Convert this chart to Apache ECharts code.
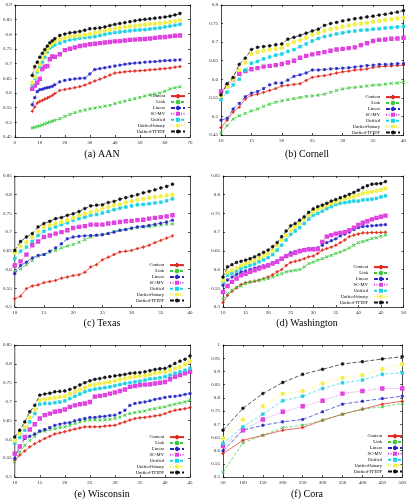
<!DOCTYPE html>
<html>
<head>
<meta charset="utf-8">
<script src="https://cdn.jsdelivr.net/npm/echarts@6/dist/echarts.min.js"></script>
<style>
html, body { margin: 0; padding: 0; background: #fff; }
#chart { width: 409px; height: 500px; }
</style>
</head>
<body>
<div id="chart"></div>
<script>
const seriesNames = ["Content", "Link", "Linear", "SC-MV", "Unified", "Unified-binary", "Unified-TFIDF"];
const captions = ["(a) AAN", "(b) Cornell", "(c) Texas", "(d) Washington", "(e) Wisconsin", "(f) Cora"];

// (a) AAN
const aanX = [7, 8, 9, 10, 11, 12, 13, 14, 15, 16, 18, 20, 22, 24, 26, 28, 30, 32, 34, 36, 38, 40, 42, 44, 46, 48, 50, 52, 54, 56, 58, 60, 62, 64, 66];
const aanY = [
  [0.538, 0.552, 0.566, 0.571, 0.575, 0.579, 0.583, 0.587, 0.592, 0.598, 0.609, 0.612, 0.615, 0.618, 0.622, 0.627, 0.634, 0.641, 0.647, 0.654, 0.661, 0.668, 0.67, 0.672, 0.674, 0.675, 0.676, 0.677, 0.679, 0.68, 0.682, 0.683, 0.685, 0.688, 0.69],
  [0.481, 0.483, 0.486, 0.488, 0.491, 0.495, 0.498, 0.501, 0.504, 0.507, 0.512, 0.52, 0.527, 0.533, 0.538, 0.542, 0.546, 0.549, 0.552, 0.555, 0.558, 0.564, 0.568, 0.572, 0.577, 0.581, 0.585, 0.59, 0.594, 0.597, 0.6, 0.606, 0.614, 0.618, 0.621],
  [0.56, 0.584, 0.605, 0.611, 0.613, 0.616, 0.618, 0.62, 0.623, 0.628, 0.638, 0.643, 0.646, 0.648, 0.65, 0.651, 0.665, 0.68, 0.683, 0.686, 0.689, 0.692, 0.695, 0.698, 0.7, 0.702, 0.703, 0.705, 0.706, 0.707, 0.709, 0.71, 0.711, 0.712, 0.713],
  [0.614, 0.625, 0.635, 0.648, 0.682, 0.69, 0.692, 0.715, 0.725, 0.723, 0.732, 0.746, 0.751, 0.755, 0.76, 0.763, 0.766, 0.768, 0.77, 0.772, 0.774, 0.776, 0.777, 0.779, 0.781, 0.782, 0.783, 0.784, 0.786, 0.788, 0.79, 0.791, 0.793, 0.795, 0.796],
  [0.628, 0.65, 0.672, 0.69, 0.705, 0.722, 0.74, 0.754, 0.759, 0.764, 0.77, 0.776, 0.781, 0.784, 0.787, 0.789, 0.79, 0.792, 0.796, 0.8, 0.803, 0.806, 0.808, 0.81, 0.812, 0.814, 0.815, 0.816, 0.818, 0.82, 0.822, 0.825, 0.828, 0.831, 0.834],
  [0.635, 0.655, 0.678, 0.697, 0.717, 0.733, 0.748, 0.761, 0.769, 0.776, 0.783, 0.788, 0.792, 0.794, 0.796, 0.798, 0.801, 0.805, 0.809, 0.813, 0.816, 0.819, 0.822, 0.825, 0.827, 0.829, 0.831, 0.833, 0.835, 0.836, 0.838, 0.84, 0.842, 0.845, 0.849],
  [0.66, 0.69, 0.705, 0.722, 0.735, 0.748, 0.76, 0.771, 0.778, 0.785, 0.796, 0.801, 0.805, 0.807, 0.81, 0.814, 0.819, 0.82, 0.822, 0.825, 0.83, 0.834, 0.837, 0.84, 0.843, 0.846, 0.849, 0.851, 0.853, 0.855, 0.857, 0.859, 0.862, 0.866, 0.871]
];

// (b) Cornell
const cornellX = [10, 11, 12, 13, 14, 15, 16, 17, 18, 19, 20, 21, 22, 23, 24, 25, 26, 27, 28, 29, 30, 31, 32, 33, 34, 35, 36, 37, 38, 39, 40];
const cornellY = [
  [0.47, 0.49, 0.512, 0.525, 0.547, 0.557, 0.56, 0.565, 0.57, 0.575, 0.582, 0.584, 0.586, 0.588, 0.597, 0.605, 0.608, 0.61, 0.613, 0.617, 0.62, 0.622, 0.625, 0.626, 0.628, 0.632, 0.634, 0.635, 0.636, 0.637, 0.638],
  [0.455, 0.475, 0.493, 0.502, 0.508, 0.515, 0.52, 0.527, 0.533, 0.538, 0.542, 0.545, 0.548, 0.551, 0.554, 0.555, 0.557, 0.56, 0.565, 0.57, 0.574, 0.577, 0.578, 0.58, 0.582, 0.584, 0.585, 0.587, 0.589, 0.59, 0.592],
  [0.49, 0.495, 0.52, 0.535, 0.553, 0.563, 0.567, 0.575, 0.585, 0.59, 0.59, 0.598, 0.608, 0.612, 0.617, 0.625, 0.625, 0.626, 0.628, 0.629, 0.63, 0.631, 0.633, 0.635, 0.637, 0.638, 0.64, 0.64, 0.641, 0.642, 0.642],
  [0.567, 0.582, 0.6, 0.615, 0.622, 0.627, 0.63, 0.634, 0.636, 0.638, 0.641, 0.645, 0.65, 0.658, 0.663, 0.667, 0.67, 0.673, 0.677, 0.68, 0.682, 0.684, 0.686, 0.692, 0.697, 0.703, 0.706, 0.707, 0.709, 0.71, 0.712],
  [0.545, 0.565, 0.585, 0.6, 0.625, 0.643, 0.648, 0.655, 0.66, 0.665, 0.668, 0.675, 0.68, 0.688, 0.695, 0.703, 0.71, 0.715, 0.718, 0.722, 0.725, 0.728, 0.73, 0.732, 0.733, 0.735, 0.736, 0.738, 0.739, 0.741, 0.742],
  [0.555, 0.58, 0.6, 0.625, 0.645, 0.668, 0.673, 0.677, 0.68, 0.682, 0.685, 0.693, 0.7, 0.705, 0.712, 0.72, 0.725, 0.73, 0.735, 0.738, 0.742, 0.745, 0.748, 0.75, 0.752, 0.755, 0.757, 0.76, 0.762, 0.764, 0.766],
  [0.558, 0.588, 0.605, 0.64, 0.657, 0.68, 0.686, 0.688, 0.69, 0.693, 0.695, 0.708, 0.713, 0.718, 0.724, 0.73, 0.735, 0.745, 0.75, 0.753, 0.757, 0.76, 0.763, 0.765, 0.768, 0.77, 0.773, 0.775, 0.778, 0.781, 0.785]
];

// (c) Texas
const texasX = [10, 11, 12, 13, 14, 15, 16, 17, 18, 19, 20, 21, 22, 23, 24, 25, 26, 27, 28, 29, 30, 31, 32, 33, 34, 35, 36, 37];
const texasY = [
  [0.522, 0.529, 0.549, 0.556, 0.559, 0.565, 0.568, 0.571, 0.577, 0.58, 0.584, 0.586, 0.593, 0.607, 0.613, 0.626, 0.633, 0.64, 0.647, 0.649, 0.651, 0.656, 0.66, 0.665, 0.672, 0.678, 0.684, 0.69],
  [0.593, 0.602, 0.613, 0.624, 0.636, 0.64, 0.647, 0.651, 0.658, 0.663, 0.667, 0.673, 0.68, 0.687, 0.691, 0.694, 0.697, 0.702, 0.705, 0.707, 0.709, 0.712, 0.714, 0.715, 0.717, 0.719, 0.721, 0.722],
  [0.589, 0.611, 0.62, 0.631, 0.638, 0.64, 0.649, 0.658, 0.669, 0.682, 0.687, 0.689, 0.69, 0.691, 0.692, 0.693, 0.696, 0.7, 0.705, 0.707, 0.711, 0.714, 0.715, 0.718, 0.721, 0.724, 0.727, 0.732],
  [0.611, 0.622, 0.64, 0.665, 0.675, 0.687, 0.691, 0.696, 0.7, 0.705, 0.711, 0.714, 0.716, 0.72, 0.72, 0.72, 0.723, 0.725, 0.727, 0.729, 0.73, 0.732, 0.733, 0.736, 0.738, 0.74, 0.742, 0.745],
  [0.629, 0.649, 0.66, 0.675, 0.691, 0.702, 0.709, 0.714, 0.72, 0.725, 0.732, 0.736, 0.74, 0.745, 0.747, 0.751, 0.755, 0.76, 0.764, 0.767, 0.77, 0.773, 0.774, 0.776, 0.778, 0.78, 0.784, 0.789],
  [0.645, 0.662, 0.673, 0.687, 0.702, 0.714, 0.718, 0.723, 0.727, 0.732, 0.738, 0.745, 0.749, 0.754, 0.758, 0.763, 0.767, 0.772, 0.774, 0.779, 0.782, 0.786, 0.789, 0.792, 0.794, 0.796, 0.798, 0.8],
  [0.651, 0.675, 0.687, 0.696, 0.714, 0.723, 0.729, 0.736, 0.739, 0.745, 0.749, 0.755, 0.763, 0.77, 0.772, 0.773, 0.779, 0.782, 0.788, 0.792, 0.796, 0.8, 0.805, 0.809, 0.813, 0.818, 0.822, 0.828]
];

// (d) Washington
const washX = [10, 11, 12, 13, 14, 15, 16, 17, 18, 19, 20, 21, 22, 23, 24, 25, 26, 27, 28, 29, 30, 31, 32, 33, 34, 35, 36, 37, 38, 39, 40, 41, 42, 43, 44, 45, 46];
const washY = [
  [0.512, 0.531, 0.542, 0.551, 0.56, 0.565, 0.567, 0.569, 0.572, 0.576, 0.58, 0.586, 0.594, 0.6, 0.611, 0.619, 0.622, 0.625, 0.629, 0.634, 0.636, 0.643, 0.652, 0.656, 0.66, 0.665, 0.672, 0.679, 0.688, 0.692, 0.695, 0.698, 0.698, 0.699, 0.699, 0.699, 0.7],
  [0.522, 0.536, 0.545, 0.553, 0.556, 0.562, 0.566, 0.569, 0.571, 0.574, 0.576, 0.58, 0.585, 0.589, 0.594, 0.596, 0.598, 0.6, 0.607, 0.616, 0.62, 0.625, 0.629, 0.634, 0.638, 0.643, 0.647, 0.652, 0.658, 0.665, 0.672, 0.675, 0.678, 0.683, 0.685, 0.689, 0.692],
  [0.558, 0.572, 0.58, 0.587, 0.594, 0.596, 0.6, 0.604, 0.607, 0.61, 0.613, 0.618, 0.623, 0.629, 0.638, 0.645, 0.648, 0.652, 0.654, 0.656, 0.656, 0.658, 0.665, 0.672, 0.677, 0.682, 0.69, 0.695, 0.7, 0.707, 0.712, 0.715, 0.716, 0.717, 0.718, 0.719, 0.72],
  [0.54, 0.556, 0.567, 0.576, 0.585, 0.589, 0.594, 0.598, 0.603, 0.607, 0.611, 0.616, 0.621, 0.629, 0.636, 0.64, 0.645, 0.649, 0.652, 0.654, 0.654, 0.655, 0.674, 0.688, 0.692, 0.696, 0.698, 0.7, 0.705, 0.712, 0.719, 0.725, 0.729, 0.734, 0.738, 0.741, 0.744],
  [0.567, 0.585, 0.59, 0.596, 0.603, 0.607, 0.611, 0.615, 0.621, 0.626, 0.632, 0.64, 0.652, 0.665, 0.679, 0.694, 0.703, 0.712, 0.723, 0.735, 0.745, 0.75, 0.756, 0.763, 0.768, 0.774, 0.777, 0.779, 0.781, 0.783, 0.783, 0.786, 0.787, 0.788, 0.79, 0.794, 0.797],
  [0.571, 0.592, 0.598, 0.604, 0.611, 0.616, 0.62, 0.625, 0.631, 0.637, 0.643, 0.652, 0.665, 0.679, 0.692, 0.705, 0.714, 0.723, 0.735, 0.745, 0.754, 0.761, 0.765, 0.772, 0.777, 0.781, 0.786, 0.79, 0.793, 0.795, 0.799, 0.804, 0.806, 0.808, 0.81, 0.813, 0.817],
  [0.58, 0.607, 0.613, 0.619, 0.622, 0.625, 0.629, 0.634, 0.64, 0.646, 0.652, 0.661, 0.672, 0.688, 0.703, 0.717, 0.723, 0.732, 0.741, 0.753, 0.762, 0.768, 0.772, 0.777, 0.783, 0.787, 0.792, 0.796, 0.801, 0.806, 0.812, 0.819, 0.824, 0.828, 0.829, 0.83, 0.835]
];

// (e) Wisconsin
const wiscX = [10, 11, 12, 13, 14, 15, 16, 17, 18, 19, 20, 21, 22, 23, 24, 25, 26, 27, 28, 29, 30, 31, 32, 33, 34, 35, 36, 37, 38, 39, 40, 41, 42, 43, 44, 45];
const wiscY = [
  [0.544, 0.558, 0.569, 0.58, 0.588, 0.595, 0.602, 0.608, 0.614, 0.617, 0.62, 0.624, 0.627, 0.63, 0.633, 0.633, 0.633, 0.633, 0.635, 0.636, 0.637, 0.642, 0.646, 0.651, 0.655, 0.657, 0.658, 0.66, 0.662, 0.664, 0.668, 0.673, 0.677, 0.679, 0.681, 0.684],
  [0.54, 0.566, 0.584, 0.597, 0.608, 0.62, 0.622, 0.626, 0.628, 0.631, 0.633, 0.637, 0.642, 0.646, 0.649, 0.651, 0.651, 0.651, 0.652, 0.653, 0.655, 0.659, 0.664, 0.668, 0.671, 0.673, 0.675, 0.679, 0.681, 0.684, 0.686, 0.69, 0.693, 0.696, 0.699, 0.704],
  [0.549, 0.58, 0.602, 0.608, 0.614, 0.622, 0.626, 0.631, 0.637, 0.64, 0.643, 0.644, 0.649, 0.652, 0.655, 0.658, 0.658, 0.66, 0.661, 0.663, 0.664, 0.67, 0.677, 0.69, 0.695, 0.697, 0.699, 0.702, 0.706, 0.708, 0.711, 0.713, 0.714, 0.716, 0.719, 0.721],
  [0.562, 0.581, 0.606, 0.626, 0.64, 0.655, 0.664, 0.668, 0.673, 0.675, 0.679, 0.686, 0.69, 0.693, 0.695, 0.699, 0.713, 0.715, 0.717, 0.721, 0.724, 0.728, 0.732, 0.739, 0.741, 0.744, 0.745, 0.746, 0.748, 0.75, 0.752, 0.759, 0.766, 0.77, 0.775, 0.779],
  [0.59, 0.605, 0.624, 0.646, 0.668, 0.693, 0.695, 0.695, 0.697, 0.699, 0.702, 0.708, 0.714, 0.72, 0.726, 0.73, 0.733, 0.735, 0.737, 0.739, 0.742, 0.745, 0.748, 0.75, 0.752, 0.754, 0.757, 0.76, 0.761, 0.763, 0.766, 0.77, 0.775, 0.779, 0.783, 0.788],
  [0.597, 0.615, 0.633, 0.658, 0.679, 0.704, 0.706, 0.708, 0.71, 0.712, 0.714, 0.72, 0.726, 0.732, 0.737, 0.743, 0.745, 0.748, 0.75, 0.752, 0.755, 0.759, 0.761, 0.764, 0.766, 0.767, 0.769, 0.772, 0.775, 0.777, 0.779, 0.783, 0.788, 0.792, 0.799, 0.807],
  [0.606, 0.624, 0.646, 0.673, 0.69, 0.717, 0.72, 0.722, 0.726, 0.727, 0.728, 0.732, 0.737, 0.744, 0.75, 0.755, 0.759, 0.761, 0.764, 0.766, 0.768, 0.77, 0.772, 0.775, 0.776, 0.777, 0.779, 0.782, 0.785, 0.787, 0.788, 0.794, 0.801, 0.807, 0.812, 0.821]
];

// (f) Cora
const coraX = [50, 100, 150, 200, 250, 300, 350, 400, 450, 500];
const coraY = [
  [0.589, 0.639, 0.658, 0.677, 0.687, 0.715, 0.738, 0.757, 0.776, 0.787],
  [0.519, 0.629, 0.658, 0.687, 0.696, 0.715, 0.737, 0.757, 0.766, 0.778],
  [0.599, 0.677, 0.696, 0.709, 0.718, 0.747, 0.776, 0.787, 0.797, 0.806],
  [0.617, 0.677, 0.718, 0.747, 0.768, 0.789, 0.816, 0.826, 0.835, 0.835],
  [0.627, 0.69, 0.738, 0.789, 0.806, 0.835, 0.857, 0.867, 0.889, 0.895],
  [0.646, 0.718, 0.768, 0.816, 0.826, 0.854, 0.876, 0.886, 0.908, 0.927],
  [0.677, 0.76, 0.816, 0.858, 0.889, 0.908, 0.928, 0.937, 0.947, 0.956]
];

const colors = ["#e0281e", "#3cc83c", "#2626c8", "#e040e0", "#1ed2e6", "#f2f046", "#111111"];
const symbols = [
  "path://M5,0H7V5H12V7H7V12H5V7H0V5H5Z",
  "path://M1,0L6,5L11,0L12,1L7,6L12,11L11,12L6,7L1,12L0,11L5,6L0,1Z",
  "path://M5.3,0H6.7V4.3L9.9,1.1L10.9,2.1L7.7,5.3H12V6.7H7.7L10.9,9.9L9.9,10.9L6.7,7.7V12H5.3V7.7L2.1,10.9L1.1,9.9L4.3,6.7H0V5.3H4.3L1.1,2.1L2.1,1.1L5.3,4.3Z",
  "emptyRect",
  "rect",
  "emptyCircle",
  "circle"
];
const dashes = ["solid", [3, 2], [4, 2], [1, 1.5], [3, 2], [1, 1.5], [4, 2]];

const panels = [
  { x: aanX, y: aanY, xMin: 0, xMax: 70, xInt: 10, yMin: 0.45, yMax: 0.9, grid: [12, 5, 178, 132], cap: [102, 154], leg: [223, 366] },
  { x: cornellX, y: cornellY, xMin: 10, xMax: 40, xInt: 5, yMin: 0.45, yMax: 0.8, grid: [221, 5, 183, 130], cap: [307, 154], leg: [8, 365] },
  { x: texasX, y: texasY, xMin: 10, xMax: 40, xInt: 5, yMin: 0.5, yMax: 0.85, grid: [10, 176, 180, 131], cap: [102, 323], leg: [224, 197] },
  { x: washX, y: washY, xMin: 10, xMax: 50, xInt: 5, yMin: 0.5, yMax: 0.85, grid: [223, 176, 181, 131], cap: [307, 323], leg: [20, 195] },
  { x: wiscX, y: wiscY, xMin: 10, xMax: 45, xInt: 5, yMin: 0.5, yMax: 0.85, grid: [10, 345, 180, 132], cap: [102, 494], leg: [224, 25] },
  { x: coraX, y: coraY, xMin: 50, xMax: 500, xInt: 50, yMin: 0.5, yMax: 1, grid: [223, 345, 181, 132], cap: [307, 494], leg: [6, 26] }
];

const labelStyle = { fontSize: 5, color: "#222", fontFamily: "Liberation Serif" };
const lineStyle = { color: "#000", width: 0.7 };

const grid = [], xAxis = [], yAxis = [], series = [], legend = [], graphic = [];
panels.forEach((p, i) => {
  grid.push({ left: p.grid[0], top: p.grid[1], width: p.grid[2], height: p.grid[3] });
  const xBase = { gridIndex: i, type: "value", min: p.xMin, max: p.xMax, interval: p.xInt, splitLine: { show: false },
    axisLine: { show: true, onZero: false, lineStyle }, axisTick: { inside: true, length: 2, lineStyle } };
  const yBase = { gridIndex: i, type: "value", min: p.yMin, max: p.yMax, interval: 0.05, splitLine: { show: false },
    axisLine: { show: true, onZero: false, lineStyle }, axisTick: { inside: true, length: 2, lineStyle } };
  xAxis.push(Object.assign({}, xBase, { position: "bottom", axisLabel: Object.assign({ margin: 3 }, labelStyle) }));
  xAxis.push(Object.assign({}, xBase, { position: "top", axisLabel: { show: false } }));
  yAxis.push(Object.assign({}, yBase, { position: "left", axisLabel: Object.assign({ margin: 3 }, labelStyle) }));
  yAxis.push(Object.assign({}, yBase, { position: "right", axisLabel: { show: false } }));
  p.y.forEach((vals, k) => {
    series.push({
      name: seriesNames[k], type: "line", xAxisIndex: 2 * i, yAxisIndex: 2 * i,
      data: p.x.map((x, j) => [x, vals[j]]),
      symbol: symbols[k], symbolSize: k === 3 || k === 5 ? 2.4 : 2.8,
      lineStyle: { color: colors[k], width: 0.7, type: dashes[k] },
      itemStyle: { color: colors[k], borderColor: colors[k], borderWidth: 0.6 },
      z: 2 + k
    });
  });
  legend.push({
    data: seriesNames, orient: "vertical", align: "right", right: p.leg[0], bottom: p.leg[1],
    itemWidth: 14, itemHeight: 2.6, itemGap: 0.9, padding: 0, selectedMode: false,
    textStyle: { fontSize: 4.6, lineHeight: 4, fontFamily: "Liberation Serif", color: "#000", padding: [0, 1, 0, 0] }
  });
  graphic.push({ type: "text", x: p.cap[0], y: p.cap[1],
    style: { text: captions[i], font: "10px 'Liberation Serif'", fill: "#000", textAlign: "center", textVerticalAlign: "middle" } });
});

const chart = echarts.init(document.getElementById("chart"));
chart.setOption({ animation: false, backgroundColor: "#fff", grid, xAxis, yAxis, series, legend, graphic });
</script>
</body>
</html>
